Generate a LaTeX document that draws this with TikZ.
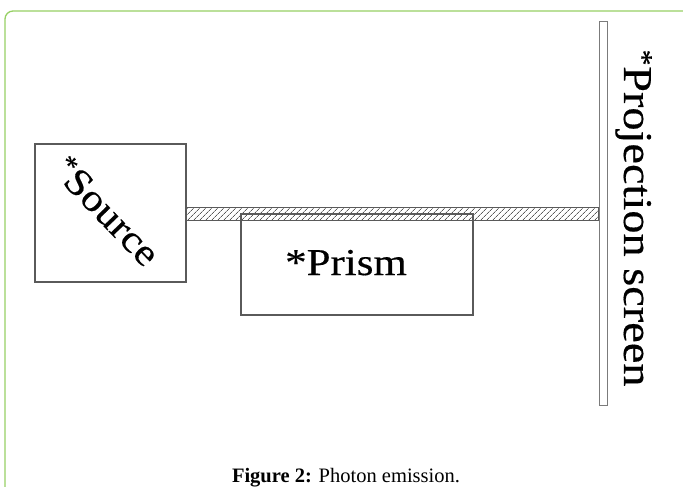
\documentclass[tikz,border=0pt]{standalone}
\usepackage{fontspec}
\setmainfont{Liberation Serif}
\newfontfamily\lblfont[FakeStretch=1.13,FakeBold=0.4]{Liberation Serif}
\usetikzlibrary{patterns.meta}
\definecolor{framegreen}{RGB}{150,208,100}
\definecolor{boxgray}{RGB}{90,90,90}
\tikzset{
  boxshape/.style={draw=boxgray, line width=1.1pt, fill=white, inner sep=0pt},
  lbl/.style={inner sep=0pt, font=\lblfont\fontsize{38}{40}\selectfont},
}
\begin{document}
\begin{tikzpicture}[x=1pt,y=-1pt]
\useasboundingbox (0,0) rectangle (683,487);
% frame
\draw[framegreen, line width=1.3pt, rounded corners=8pt] (5,490) -- (5,11) -- (690,11);
% prism box
\node[boxshape, minimum width=232pt, minimum height=101pt] (prism) at (357,264.5) {};
% source box
\node[boxshape, minimum width=151pt, minimum height=138pt] (source) at (110.5,213) {};
% screen
\node[draw=boxgray!80, line width=1pt, fill=white, inner sep=0pt, minimum width=8pt, minimum height=383pt] (screen) at (603,213.5) {};
% beam
\coordinate (b1) at (source.east |- 0,207);
\coordinate (b2) at (screen.west |- 0,220);
\draw[boxgray, line width=0.8pt, fill=white, pattern={Lines[angle=45,distance=4pt,line width=0.7pt]}, pattern color=boxgray] (b1) rectangle (b2);
% labels
\node[lbl, rotate=-46] (srclbl) at (107,211) {\textsuperscript{*}Source};
\node[lbl, anchor=base] (prismlbl) at (346,275) {*Prism};
\node[lbl, font=\lblfont\fontsize{41}{43}\selectfont, anchor=base, rotate=-90] (screenlbl) at (624,218) {\textsuperscript{*}Projection screen};
% caption
\node[inner sep=0pt, anchor=base, font=\fontsize{20.5}{22}\selectfont] (caption) at (346,482) {\textbf{Figure 2:} Photon emission.};
\end{tikzpicture}
\end{document}
